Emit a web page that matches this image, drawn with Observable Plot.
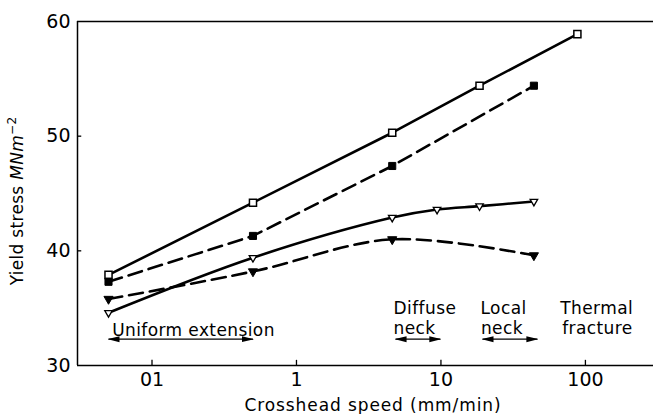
<!DOCTYPE html>
<html>
<head>
<meta charset="utf-8">
<script src="https://cdn.jsdelivr.net/npm/d3@7"></script>
<script src="https://cdn.jsdelivr.net/npm/@observablehq/plot@0.6"></script>
<style>
  html, body { margin: 0; padding: 0; background: #fff; }
</style>
</head>
<body>
<div id="chart"></div>
<script>
// ---- data ----
const xTicks = [0.1, 1, 10, 100];
const xTickLabels = ["01", "1", "10", "100"];
const yTicks = [30, 40, 50, 60];

const openSquareSpeed = [0.05, 0.5, 4.6, 18.5, 88];
const openSquareStress = [37.9, 44.2, 50.3, 54.4, 58.9];

const filledSquareSpeed = [0.05, 0.5, 4.6, 44];
const filledSquareStress = [37.3, 41.3, 47.4, 54.4];

const openTriSpeed = [0.05, 0.5, 4.6, 9.4, 18.5, 44];
const openTriStress = [34.6, 39.4, 42.9, 43.6, 43.9, 44.3];

const filledTriSpeed = [0.05, 0.5, 4.6, 44];
const filledTriStress = [35.8, 38.2, 41.0, 39.6];

const regionLabels = ["Uniform extension", "Diffuse", "neck", "Local", "neck", "Thermal", "fracture"];
const regionLabelX = [0.053, 4.7, 4.7, 18.8, 18.9, 67, 69];
const regionLabelY = [33.05, 35.0, 33.2, 35.0, 33.2, 35.0, 33.2];

const arrowFrom = [0.05, 4.85, 19.4];
const arrowTo = [0.50, 9.9, 46.5];
const arrowY = 32.3;

// ---- build tables ----
const zip = (xs, ys) => xs.map((x, i) => ({x, y: ys[i]}));
const openSq = zip(openSquareSpeed, openSquareStress);
const fillSq = zip(filledSquareSpeed, filledSquareStress);
const openTri = zip(openTriSpeed, openTriStress);
const fillTri = zip(filledTriSpeed, filledTriStress);
const labels = regionLabels.map((t, i) => ({t, x: regionLabelX[i], y: regionLabelY[i]}));
const arrows = arrowFrom.map((a, i) => ({x1: a, x2: arrowTo[i], y: arrowY}));

const xMin = 0.0305, xMax = 296;
const FONT = "DejaVu Sans, sans-serif";

const chart = Plot.plot({
  width: 653,
  height: 414,
  marginLeft: 77,
  marginRight: 0,
  marginTop: 21,
  marginBottom: 49,
  style: {fontFamily: FONT, fontSize: "19px", background: "white", color: "black"},
  x: {type: "log", domain: [xMin, xMax], ticks: xTicks, tickFormat: d => xTickLabels[xTicks.indexOf(d)] ?? "", tickSize: 0, tickPadding: 7, label: null},
  y: {domain: [30, 60], ticks: yTicks, tickSize: 0, tickPadding: 7, label: null},
  marks: [
    // frame lines
    Plot.ruleY([30], {stroke: "black", strokeWidth: 1.5}),
    Plot.ruleY([60], {stroke: "black", strokeWidth: 1.3}),
    Plot.ruleX([xMin], {stroke: "black", strokeWidth: 1.5}),
    // inward ticks
    Plot.ruleX(xTicks, {x: d => d, y1: 30, y2: 30.45, stroke: "black", strokeWidth: 1.3}),
    Plot.ruleY(yTicks.slice(1, 3), {y: d => d, x1: xMin, x2: xMin * 1.07, stroke: "black", strokeWidth: 1.3}),
    // series lines
    Plot.line(openSq, {x: "x", y: "y", stroke: "black", strokeWidth: 2.6}),
    Plot.line(fillSq, {x: "x", y: "y", stroke: "black", strokeWidth: 2.6, strokeDasharray: "14,7"}),
    Plot.line(openTri, {x: "x", y: "y", stroke: "black", strokeWidth: 2.6, curve: "catmull-rom"}),
    Plot.line(fillTri, {x: "x", y: "y", stroke: "black", strokeWidth: 2.6, strokeDasharray: "14,7", curve: "catmull-rom"}),
    // markers
    Plot.dot(openSq, {x: "x", y: "y", symbol: "square", r: 4, fill: "white", stroke: "black", strokeWidth: 1.5}),
    Plot.dot(fillSq, {x: "x", y: "y", symbol: "square", r: 4, fill: "black", stroke: "black", strokeWidth: 1}),
    Plot.dot(openTri, {x: "x", y: "y", symbol: "triangle", rotate: 180, r: 2.8, fill: "white", stroke: "black", strokeWidth: 1.3}),
    Plot.dot(fillTri, {x: "x", y: "y", symbol: "triangle", rotate: 180, r: 3.4, fill: "black", stroke: "black", strokeWidth: 1}),
    // region annotations
    Plot.text(labels, {x: "x", y: "y", text: "t", textAnchor: "start", fontSize: 17, fill: "black"}),
    Plot.link(arrows, {x1: "x1", x2: "x2", y1: "y", y2: "y", stroke: "black", strokeWidth: 1.4})
  ]
});

const svg = d3.select(chart);
// filled, elongated double arrowheads
svg.append("defs").append("marker")
  .attr("id", "ahead")
  .attr("viewBox", "0 -4 12 8")
  .attr("refX", 11).attr("refY", 0)
  .attr("markerWidth", 12).attr("markerHeight", 8)
  .attr("markerUnits", "userSpaceOnUse")
  .attr("orient", "auto-start-reverse")
  .append("path").attr("d", "M0,-3L12,0L0,3Z").attr("fill", "black");
svg.selectAll('g[aria-label="link"] path')
  .attr("marker-start", "url(#ahead)")
  .attr("marker-end", "url(#ahead)");

// annotation letter spacing (wide lettering of the original)
svg.selectAll('g[aria-label="text"] text').attr("letter-spacing", "0.4px");

// x-axis title
svg.append("text")
  .attr("x", 373).attr("y", 411)
  .attr("text-anchor", "middle")
  .attr("font-size", 17)
  .attr("letter-spacing", "0.9px")
  .attr("font-family", FONT)
  .attr("fill", "black")
  .text("Crosshead speed (mm/min)");
// y-axis title
const yt = svg.append("text")
  .attr("transform", "translate(23,201) rotate(-90)")
  .attr("text-anchor", "middle")
  .attr("font-size", 17)
  .attr("letter-spacing", "0.3px")
  .attr("font-family", FONT)
  .attr("fill", "black");
yt.append("tspan").text("Yield stress ");
yt.append("tspan").attr("font-style", "italic").text("MNm");
yt.append("tspan").attr("dy", "-0.55em").attr("font-size", 12).text("−2");

document.getElementById("chart").appendChild(chart);
</script>
</body>
</html>
